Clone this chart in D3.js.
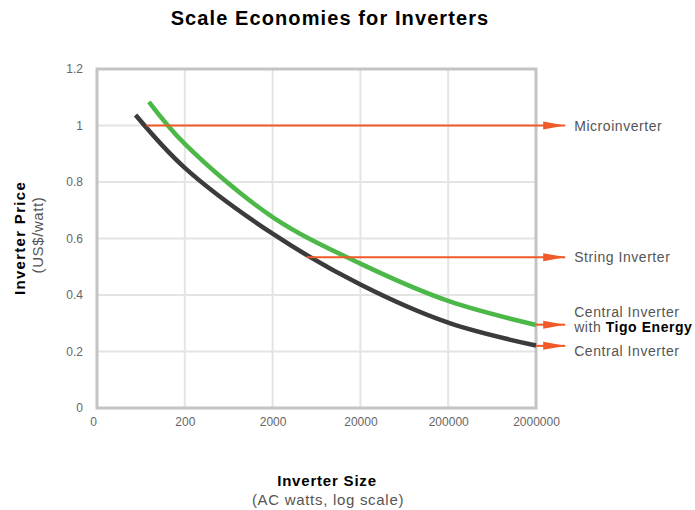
<!DOCTYPE html>
<html>
<head>
<meta charset="utf-8">
<script src="https://cdn.jsdelivr.net/npm/d3@7"></script>
<style>
  body { margin: 0; background: #fff; }
  svg { font-family: "Liberation Sans", Arial, sans-serif; }
  .tick text { fill: #666; font-size: 12px; }
  .gray { fill: #555; }
</style>
</head>
<body>
<svg id="chart"></svg>
<script>
// x ticks (log scale, first tick labelled "0")
const xTicks = [20, 200, 2000, 20000, 200000, 2000000]
const xTickLabels = ['0', '200', '2000', '20000', '200000', '2000000']
const yTicks = [0, 0.2, 0.4, 0.6, 0.8, 1, 1.2]

// central inverter curve (dark)
const centralSizes = [55, 200, 2000, 20000, 200000, 2000000]
const centralPrices = [1.037, 0.85, 0.617, 0.437, 0.302, 0.221]

// central inverter with Tigo Energy (green)
const tigoSizes = [78, 200, 2000, 20000, 200000, 2000000]
const tigoPrices = [1.084, 0.935, 0.676, 0.511, 0.379, 0.294]

// arrows: start size, end size, price
const arrowNames = ['Microinverter', 'String Inverter', 'Tigo', 'Central Inverter']
const arrowStart = [73, 4900, 2000000, 2000000]
const arrowEnd = [4.3e6, 4.3e6, 4.3e6, 4.3e6]
const arrowPrice = [1.0, 0.534, 0.295, 0.22]

const width = 695, height = 510
const margin = {top: 69, right: 159, bottom: 102, left: 97}

const svg = d3.select('#chart')
    .attr('width', width)
    .attr('height', height)

const x = d3.scaleLog()
    .domain([20, 2000000])
    .range([margin.left, width - margin.right])

const y = d3.scaleLinear()
    .domain([0, 1.2])
    .range([height - margin.bottom, margin.top])

// grid
svg.append('g').selectAll('line')
    .data(xTicks.slice(1, -1))
    .join('line')
    .attr('x1', d => x(d)).attr('x2', d => x(d))
    .attr('y1', y(0)).attr('y2', y(1.2))
    .attr('stroke', '#e4e4e4').attr('stroke-width', 2)

svg.append('g').selectAll('line')
    .data(yTicks.slice(1, -1))
    .join('line')
    .attr('x1', x(20)).attr('x2', x(2000000))
    .attr('y1', d => y(d)).attr('y2', d => y(d))
    .attr('stroke', '#e4e4e4').attr('stroke-width', 2)

// frame
svg.append('rect')
    .attr('x', x(20)).attr('y', y(1.2))
    .attr('width', x(2000000) - x(20))
    .attr('height', y(0) - y(1.2))
    .attr('fill', 'none')
    .attr('stroke', '#c4c4c4')
    .attr('stroke-width', 3)

// axes
const xAxis = d3.axisBottom(x)
    .tickValues(xTicks)
    .tickFormat((d, i) => xTickLabels[i])
    .tickSize(0)
    .tickPadding(9)

svg.append('g')
    .attr('transform', `translate(0,${y(0)})`)
    .call(xAxis)
    .call(g => g.select('.domain').remove())
    .selectAll('text')
    .attr('font-family', null)
    .attr('dx', (d, i) => i === 0 ? -4 : 0)

const yAxis = d3.axisLeft(y)
    .tickValues(yTicks)
    .tickFormat(d => d)
    .tickSize(0)
    .tickPadding(14)

svg.append('g')
    .attr('transform', `translate(${x(20)},0)`)
    .call(yAxis)
    .call(g => g.select('.domain').remove())
    .selectAll('text').attr('font-family', null)

// curves
const line = d3.line()
    .x(d => x(d[0]))
    .y(d => y(d[1]))
    .curve(d3.curveCatmullRom.alpha(0.5))

svg.append('path')
    .datum(d3.zip(tigoSizes, tigoPrices))
    .attr('d', line)
    .attr('fill', 'none')
    .attr('stroke', '#4cb848')
    .attr('stroke-width', 4.5)

svg.append('path')
    .datum(d3.zip(centralSizes, centralPrices))
    .attr('d', line)
    .attr('fill', 'none')
    .attr('stroke', '#3b3b3d')
    .attr('stroke-width', 4.5)

// arrows
svg.append('defs').append('marker')
    .attr('id', 'arrow')
    .attr('markerUnits', 'userSpaceOnUse')
    .attr('markerWidth', 22).attr('markerHeight', 10)
    .attr('refX', 22).attr('refY', 5)
    .attr('orient', 'auto')
    .append('path')
    .attr('d', 'M0,1L22,5L0,9Z')
    .attr('fill', '#f05a28')

svg.append('g').selectAll('line')
    .data(arrowNames)
    .join('line')
    .attr('x1', (d, i) => x(arrowStart[i]))
    .attr('x2', (d, i) => x(arrowEnd[i]))
    .attr('y1', (d, i) => y(arrowPrice[i]))
    .attr('y2', (d, i) => y(arrowPrice[i]))
    .attr('stroke', '#f05a28')
    .attr('stroke-width', 2)
    .attr('marker-end', 'url(#arrow)')

// arrow labels
const labelX = x(arrowEnd[0]) + 9
const labelStyle = sel => sel.attr('class', 'gray')
    .style('font-size', '14px')
    .style('letter-spacing', '0.55px')

svg.append('text').call(labelStyle)
    .attr('x', labelX).attr('y', y(arrowPrice[0]) + 5)
    .text('Microinverter')

svg.append('text').call(labelStyle)
    .attr('x', labelX).attr('y', y(arrowPrice[1]) + 5)
    .text('String Inverter')

const tigoLabel = svg.append('text').call(labelStyle)
    .attr('x', labelX).attr('y', y(arrowPrice[2]) - 7.5)
tigoLabel.append('tspan').text('Central Inverter')
tigoLabel.append('tspan').attr('x', labelX).attr('dy', 15).text('with ')
tigoLabel.append('tspan').attr('font-weight', 'bold').attr('fill', '#000').text('Tigo Energy')

svg.append('text').call(labelStyle)
    .attr('x', labelX).attr('y', y(arrowPrice[3]) + 10)
    .text('Central Inverter')

// titles
svg.append('text')
    .attr('x', 330).attr('y', 25)
    .attr('text-anchor', 'middle')
    .style('font-size', '20px')
    .style('font-weight', 'bold')
    .style('letter-spacing', '1.1px')
    .text('Scale Economies for Inverters')

svg.append('text')
    .attr('x', 327).attr('y', 486)
    .attr('text-anchor', 'middle')
    .style('font-size', '15px')
    .style('font-weight', 'bold')
    .style('letter-spacing', '0.8px')
    .text('Inverter Size')

svg.append('text').attr('class', 'gray')
    .attr('x', 328).attr('y', 505)
    .attr('text-anchor', 'middle')
    .style('font-size', '15px')
    .style('letter-spacing', '0.7px')
    .text('(AC watts, log scale)')

svg.append('text')
    .attr('transform', 'translate(25,238) rotate(-90)')
    .attr('text-anchor', 'middle')
    .style('font-size', '15px')
    .style('font-weight', 'bold')
    .style('letter-spacing', '1.3px')
    .text('Inverter Price')

svg.append('text').attr('class', 'gray')
    .attr('transform', 'translate(43,235) rotate(-90)')
    .attr('text-anchor', 'middle')
    .style('font-size', '15px')
    .style('letter-spacing', '0.6px')
    .text('(US$/watt)')
</script>
</body>
</html>
